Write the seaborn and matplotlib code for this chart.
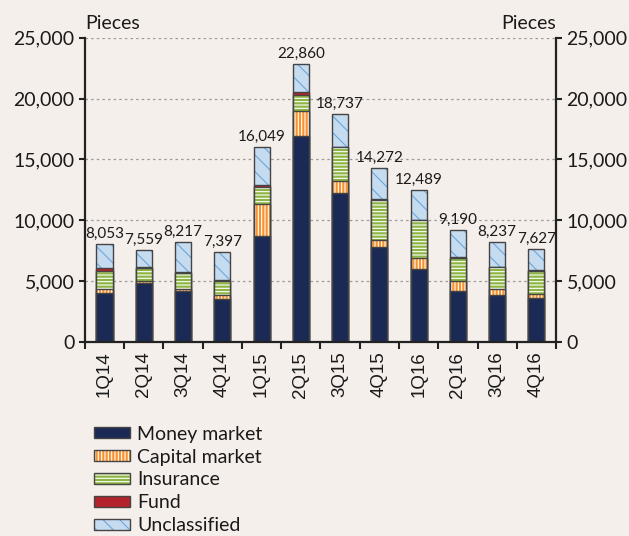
import numpy as np
import matplotlib.pyplot as plt
import seaborn as sns
from matplotlib.patches import Patch
from matplotlib.legend_handler import HandlerTuple
from matplotlib.ticker import FuncFormatter

quarters = ["1Q14", "2Q14", "3Q14", "4Q14", "1Q15", "2Q15",
            "3Q15", "4Q15", "1Q16", "2Q16", "3Q16", "4Q16"]
money_market = [4050, 4880, 4220, 3560, 8710, 16960, 12270, 7810, 6030, 4220, 3840, 3590]
capital_market = [270, 140, 165, 275, 2600, 2000, 930, 550, 850, 770, 520, 355]
insurance = [1490, 1070, 1260, 1150, 1400, 1370, 2800, 3310, 3120, 1920, 1780, 1890]
fund = [270, 50, 100, 100, 190, 220, 40, 40, 40, 40, 40, 40]
unclassified = [1973, 1419, 2472, 2312, 3149, 2310, 2697, 2562, 2449, 2240, 2057, 1752]
totals = [8053, 7559, 8217, 7397, 16049, 22860, 18737, 14272, 12489, 9190, 8237, 7627]

# name, values, fill colour, hatch, hatch colour
layers = [
    ("Money market", money_market, "#1b2a55", "", "#1b2a55"),
    ("Capital market", capital_market, "#f7922f", "|||||", "white"),
    ("Insurance", insurance, "#8db543", "-----", "white"),
    ("Fund", fund, "#b3232b", "", "#b3232b"),
    ("Unclassified", unclassified, "#c5dbf0", "\\\\", "#6fa6d8"),
]

bg = "#f5efeb"
sns.set_theme(style="ticks")
plt.rcParams["font.family"] = ["Lato", "DejaVu Sans"]
plt.rcParams["hatch.linewidth"] = 0.8
plt.rcParams["text.color"] = "#1a1a1a"

fig, ax = plt.subplots(figsize=(6.29, 5.36), dpi=100)
fig.patch.set_facecolor(bg)
ax.set_facecolor(bg)
fig.subplots_adjust(left=0.135, right=0.884, bottom=0.362, top=0.9297)

# stacked bars: draw cumulative heights from the top layer down
stack = np.cumsum([l[1] for l in layers], axis=0)
for i in range(len(layers) - 1, -1, -1):
    name, vals, fc, hatch, hc = layers[i]
    sns.barplot(x=quarters, y=stack[i], color=fc, saturation=1, width=0.41,
                hatch=hatch, edgecolor=hc, linewidth=0, ax=ax)
    sns.barplot(x=quarters, y=stack[i], fill=False, color="#444444",
                width=0.41, linewidth=1, ax=ax)

for i, t in enumerate(totals):
    ax.text(i, t + 250, f"{t:,}", ha="center", va="bottom", fontsize=11)

ax.set_ylim(0, 25000)
ax.set_yticks(range(0, 25001, 5000))
ax.yaxis.set_major_formatter(FuncFormatter(lambda v, p: f"{int(v):,}"))
ax.yaxis.grid(True, linestyle=(0, (2, 2.5)), color="#9a9a9a", lw=0.9)
ax.set_axisbelow(True)
ax.tick_params(axis="y", left=True, right=True, labelleft=True, labelright=True,
               direction="out", length=4, width=1.5, labelsize=14, color="#222222",
               labelcolor="#1a1a1a")

ax.set_xlim(-0.5, 11.5)
ax.set_xticks(range(len(quarters)))
ax.set_xticklabels(quarters, rotation=90, family="Liberation Sans", fontsize=13.5,
                   color="#1a1a1a")
ax.tick_params(axis="x", which="major", length=0, pad=7)
ax.set_xticks(np.arange(-0.5, 12, 1), minor=True)
ax.tick_params(axis="x", which="minor", length=5, width=1.5, direction="out",
               color="#222222")

ax.spines["top"].set_visible(False)
for s in ["left", "right", "bottom"]:
    ax.spines[s].set_color("#222222")
    ax.spines[s].set_linewidth(1.6)

ax.text(0, 1.03, "Pieces", transform=ax.transAxes, ha="left", va="baseline", fontsize=14)
ax.text(1, 1.03, "Pieces", transform=ax.transAxes, ha="right", va="baseline", fontsize=14)

handles = []
for name, vals, fc, hatch, hc in layers:
    handles.append((Patch(facecolor=fc, hatch=hatch, edgecolor=hc, linewidth=0),
                    Patch(facecolor="none", edgecolor="#444444", linewidth=1)))
fig.legend(handles, [l[0] for l in layers], loc="upper left",
           bbox_to_anchor=(84 / 629, 1 - 416 / 536), frameon=False, fontsize=14,
           handlelength=1.85, handleheight=0.5, handletextpad=0.4, labelspacing=0.3,
           borderpad=0, handler_map={tuple: HandlerTuple(ndivide=1, pad=0)})

fig.savefig("out.png", dpi=100, facecolor=bg)
